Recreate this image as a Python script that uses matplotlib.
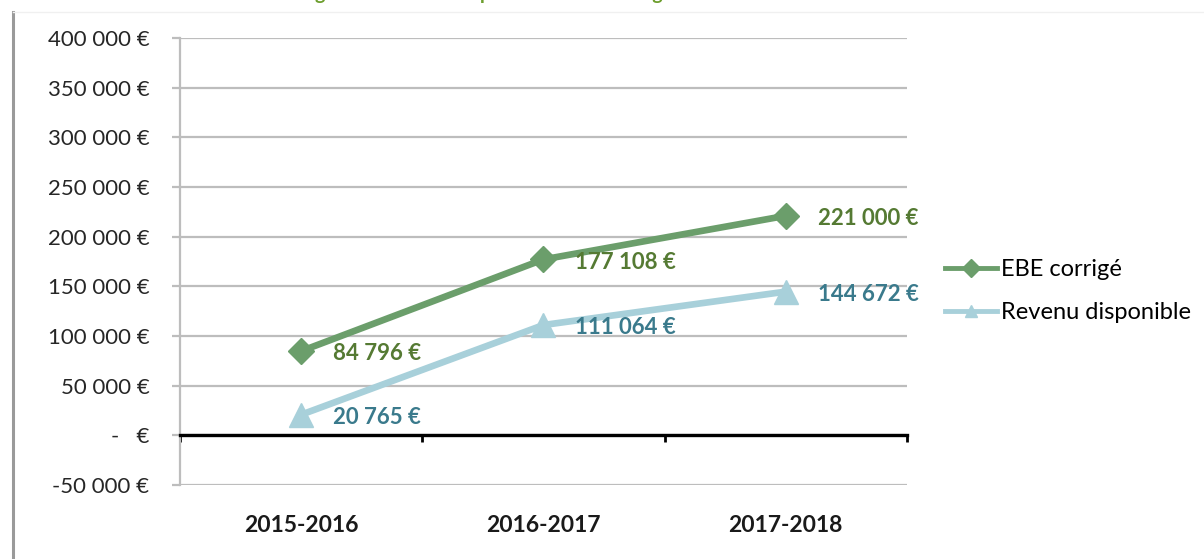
import numpy as np
import matplotlib
matplotlib.use("Agg")
import matplotlib.pyplot as plt
from matplotlib.lines import Line2D
from matplotlib.ticker import FuncFormatter

plt.rcParams['font.family'] = ['Lato', 'DejaVu Sans']

# donnees
campagnes = ['2015-2016', '2016-2017', '2017-2018']
ebe_corrige = [84796, 177108, 221000]
revenu_dispo = [20765, 111064, 144672]
yticks = np.arange(-50000, 400001, 50000)

vert = '#6b9e6b'
bleu = '#a8d0da'
vert_txt = '#557a33'
bleu_txt = '#3a7a8c'
gris = '#bdbdbd'


def euro(v, pos=None):
    if v == 0:
        return '-   €'
    s = f"{abs(int(v)):,}".replace(',', ' ')
    return ('-' if v < 0 else '') + s + ' €'


def lab(v):
    return f"{int(v):,}".replace(',', ' ') + ' €'


fig = plt.figure(figsize=(12.04, 5.59), dpi=100)
ax = fig.add_axes([0.1495, 0.1324, 0.6038, 0.7996])

x = np.arange(len(campagnes))
ax.plot(x, ebe_corrige, color=vert, lw=4.8, marker='D', ms=13,
        label='EBE corrigé', zorder=4)
ax.plot(x, revenu_dispo, color=bleu, lw=4.8, marker='^', ms=17,
        label='Revenu disponible', zorder=3)

for xi, v in zip(x, ebe_corrige):
    ax.annotate(lab(v), (xi, v), xytext=(23, -2), textcoords='offset points',
                ha='left', va='center', fontsize=16, fontweight='bold',
                color=vert_txt, zorder=5)
for xi, v in zip(x, revenu_dispo):
    ax.annotate(lab(v), (xi, v), xytext=(23, -2), textcoords='offset points',
                ha='left', va='center', fontsize=16, fontweight='bold',
                color=bleu_txt, zorder=5)

ax.set_xlim(-0.5, len(campagnes) - 0.5)
ax.set_ylim(-50000, 400000)
ax.set_yticks(yticks)
ax.yaxis.set_major_formatter(FuncFormatter(euro))
ax.yaxis.grid(True, color=gris, lw=1.6)
ax.set_axisbelow(True)
ax.tick_params(axis='y', length=6, width=1.6, color=gris, pad=16,
               labelsize=16, labelcolor='#262626')

for s in ['top', 'right']:
    ax.spines[s].set_visible(False)
ax.spines['left'].set_color(gris)
ax.spines['left'].set_linewidth(1.6)
ax.spines['bottom'].set_position(('data', 0))
ax.spines['bottom'].set_color('black')
ax.spines['bottom'].set_linewidth(2.4)
ax.set_xticks(np.arange(len(campagnes) + 1) - 0.5)
ax.set_xticklabels([])
ax.tick_params(axis='x', length=5, width=2, color='black', direction='out')

for xi, c in zip(x, campagnes):
    ax.text(xi, -0.09, c, transform=ax.get_xaxis_transform(), ha='center',
            va='center', fontsize=16.5, fontweight='bold', color='#1a1a1a')

leg = ax.legend(loc='center left', bbox_to_anchor=(1.052, 0.434), frameon=False,
                fontsize=17, handlelength=2.2, handletextpad=0.2,
                labelspacing=0.95, borderaxespad=0, borderpad=0)
for h in leg.legend_handles:
    h.set_markersize(9)
    h.set_linewidth(3.5)

# titre coupe en haut de l'image
fig.text(0.51, 1.0, "Figure 9 : Revenu disponible et EBE corrigé sur les trois dernières années",
         ha='center', va='baseline', fontsize=14, fontweight='bold', color='#6d9e2e')

# cadre de la page
fig.add_artist(Line2D([0.0108, 0.0108], [0, 0.978], transform=fig.transFigure,
                      color='#9a9a9a', lw=2.2))
fig.add_artist(Line2D([0.0108, 1], [0.978, 0.978], transform=fig.transFigure,
                      color='#f0f0f0', lw=1))

fig.savefig('out.png', dpi=100)
